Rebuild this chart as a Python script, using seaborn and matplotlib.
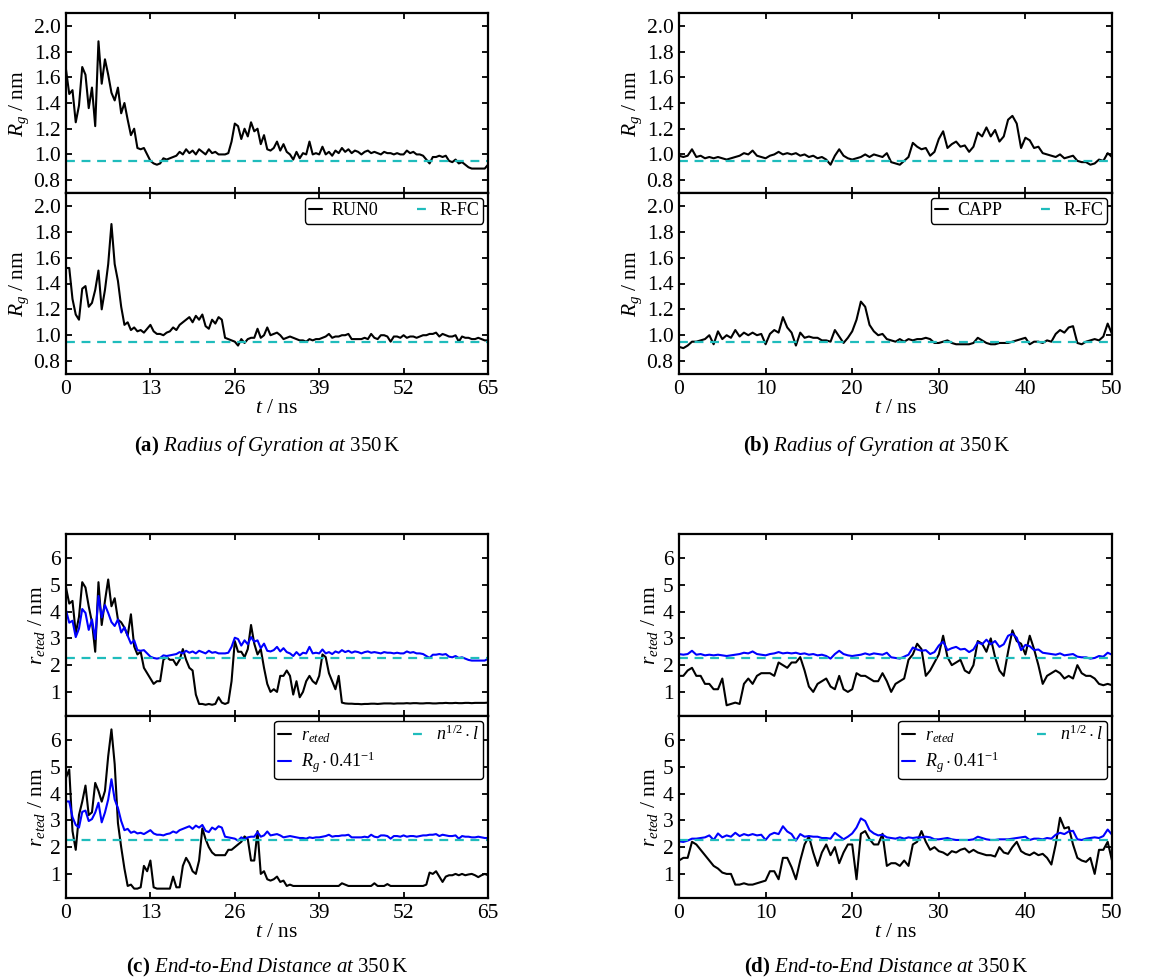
import numpy as np
import matplotlib
matplotlib.use("Agg")
import matplotlib.pyplot as plt
import seaborn as sns

# ---------------- data ----------------
# radius of gyration, RUN0 (65 ns), sampled every 0.5 ns
rg_run0_a = [
    1.66, 1.47, 1.50, 1.25, 1.38, 1.68, 1.62, 1.36, 1.52, 1.22,
    1.88, 1.55, 1.74, 1.62, 1.48, 1.42, 1.52, 1.32, 1.40, 1.27,
    1.15, 1.20, 1.05, 1.04, 1.05, 1.00, 0.95, 0.93, 0.92, 0.93,
    0.97, 0.96, 0.97, 0.98, 0.99, 1.02, 1.00, 1.04, 1.01, 1.03,
    1.00, 1.04, 1.02, 1.00, 1.04, 1.01, 1.02, 1.00, 1.00, 1.00,
    1.01, 1.10, 1.24, 1.22, 1.12, 1.20, 1.14, 1.25, 1.18, 1.20,
    1.08, 1.15, 1.04, 1.03, 1.05, 1.10, 1.03, 1.08, 1.02, 1.00,
    0.96, 1.02, 0.97, 1.01, 1.00, 1.10, 1.00, 1.01, 1.00, 1.06,
    1.00, 1.02, 0.99, 1.03, 1.01, 1.05, 1.02, 1.04, 1.01, 1.03,
    1.02, 1.00, 1.02, 1.03, 1.01, 1.02, 1.01, 1.00, 1.02, 1.01,
    1.01, 1.00, 1.01, 1.00, 1.00, 1.03, 1.01, 1.02, 1.00, 1.00,
    0.99, 0.96, 0.93, 0.98, 0.98, 0.99, 0.98, 0.99, 0.95, 0.94,
    0.96, 0.93, 0.94, 0.92, 0.90, 0.89, 0.89, 0.89, 0.89, 0.89,
    0.92,
]
rg_run0_b = [
    1.52, 1.52, 1.28, 1.16, 1.12, 1.36, 1.38, 1.22, 1.25, 1.35,
    1.50, 1.20, 1.35, 1.55, 1.86, 1.55, 1.42, 1.22, 1.08, 1.10,
    1.04, 1.06, 1.03, 1.04, 1.02, 1.05, 1.08, 1.03, 1.01, 1.01,
    1.00, 1.02, 1.03, 1.06, 1.04, 1.08, 1.10, 1.12, 1.14, 1.10,
    1.15, 1.12, 1.16, 1.07, 1.05, 1.12, 1.09, 1.14, 1.12, 0.98,
    0.97, 0.96, 0.95, 0.92, 0.97, 0.94, 0.97, 0.98, 0.98, 1.05,
    0.98, 1.00, 1.06, 1.00, 1.01, 1.02, 1.00, 0.97, 0.98, 0.99,
    0.98, 0.97, 0.96, 0.96, 0.95, 0.97, 0.96, 0.97, 0.97, 0.98,
    0.99, 1.01, 0.98, 0.99, 0.99, 1.00, 1.00, 1.01, 0.97, 0.97,
    0.97, 0.97, 0.98, 0.97, 1.01, 0.98, 0.97, 1.00, 1.00, 0.99,
    0.95, 0.99, 0.99, 0.98, 1.00, 0.98, 0.99, 0.99, 0.98, 0.99,
    1.00, 1.00, 1.01, 1.01, 1.02, 0.99, 1.01, 1.00, 0.99, 0.99,
    1.00, 0.95, 0.99, 0.98, 0.98, 0.97, 0.97, 0.98, 0.97, 0.96,
    0.96,
]
# radius of gyration, CAPP (50 ns), sampled every 0.5 ns
rg_capp_a = [
    0.99, 0.98, 0.99, 1.04, 0.98, 0.99, 0.97, 0.98, 0.97, 0.98,
    0.97, 0.96, 0.97, 0.98, 0.99, 1.01, 1.00, 1.03, 0.99, 0.98,
    0.97, 0.99, 1.00, 1.02, 1.00, 1.01, 1.00, 1.01, 0.99, 1.00,
    0.98, 0.99, 0.97, 0.98, 0.96, 0.92, 0.99, 1.04, 0.99, 0.97,
    0.96, 0.97, 0.98, 1.00, 0.98, 1.00, 0.99, 0.98, 1.01, 0.94,
    0.93, 0.92, 0.95, 0.98, 1.09, 1.06, 1.04, 1.05, 0.99, 1.02,
    1.12, 1.18, 1.05, 1.08, 1.10, 1.06, 1.07, 1.02, 1.06, 1.17,
    1.14, 1.21, 1.14, 1.19, 1.10, 1.14, 1.27, 1.30, 1.24, 1.05,
    1.13, 1.11, 1.05, 1.06, 1.01, 1.00, 0.99, 0.98, 1.00, 0.97,
    0.98, 0.99, 0.95, 0.94, 0.94, 0.92, 0.93, 0.96, 0.95, 1.01,
    0.98,
]
rg_capp_b = [
    0.91, 0.90, 0.92, 0.95, 0.95, 0.96, 0.97, 1.00, 0.93, 1.03,
    0.97, 1.00, 0.98, 1.04, 0.99, 1.02, 1.00, 1.02, 1.00, 1.01,
    0.93, 1.01, 1.04, 1.02, 1.14, 1.06, 1.02, 0.92, 1.02, 0.98,
    0.99, 0.98, 0.98, 0.96, 0.96, 0.95, 1.04, 0.99, 0.94, 0.98,
    1.03, 1.12, 1.26, 1.22, 1.08, 1.03, 1.00, 1.01, 0.97, 0.96,
    0.95, 0.97, 0.95, 0.97, 0.96, 0.97, 0.97, 0.98, 0.97, 0.94,
    0.94, 0.95, 0.96, 0.94, 0.93, 0.93, 0.93, 0.93, 0.94, 0.98,
    0.96, 0.94, 0.93, 0.93, 0.94, 0.94, 0.94, 0.95, 0.96, 0.97,
    0.98, 0.93, 0.95, 0.95, 0.94, 0.96, 0.95, 1.01, 1.04, 1.02,
    1.06, 1.07, 0.94, 0.93, 0.95, 0.96, 0.97, 0.96, 0.99, 1.09,
    1.01,
]
# end-to-end distance, RUN0
reted_run0_a = [
    4.9, 4.3, 4.4, 3.2, 3.8, 5.1, 4.9, 4.2, 3.6, 2.5,
    5.1, 3.5, 4.4, 5.2, 4.2, 4.5, 3.7, 3.6, 3.4, 3.1,
    3.9, 2.7, 2.4, 2.5, 1.9, 1.7, 1.5, 1.3, 1.4, 1.4,
    2.2, 2.3, 2.2, 2.2, 2.0, 2.2, 2.6, 2.2, 1.9, 1.8,
    0.9, 0.55, 0.55, 0.52, 0.55, 0.52, 0.55, 0.8, 0.6, 0.55,
    0.6, 1.4, 2.9, 2.5, 2.5, 2.3, 2.6, 3.5, 2.8, 2.4,
    2.6, 1.9, 1.3, 1.0, 1.1, 1.0, 1.6, 1.6, 1.8, 1.6,
    0.9, 1.4, 0.8, 1.0, 1.4, 1.6, 1.4, 1.3, 1.6, 2.4,
    2.3, 1.7, 1.4, 1.1, 1.6, 0.6, 0.57, 0.56, 0.56, 0.55,
    0.55, 0.54, 0.55, 0.55, 0.56, 0.56, 0.55, 0.56, 0.57, 0.57,
    0.57, 0.56, 0.57, 0.57, 0.57, 0.58, 0.57, 0.58, 0.58, 0.57,
    0.57, 0.58, 0.58, 0.57, 0.57, 0.58, 0.58, 0.59, 0.58, 0.58,
    0.59, 0.58, 0.58, 0.59, 0.59, 0.58, 0.59, 0.59, 0.59, 0.59,
    0.60,
]
reted_run0_b = [
    4.6, 4.9, 2.6, 1.9, 3.2, 3.7, 4.3, 3.2, 3.3, 4.4,
    4.1, 3.7, 4.1, 5.4, 6.4, 5.1, 2.9, 2.0, 1.2, 0.55,
    0.6, 0.45, 0.45, 0.5, 1.3, 1.1, 1.5, 0.5, 0.45, 0.45,
    0.45, 0.45, 0.45, 0.9, 0.5, 0.5, 1.3, 1.6, 1.4, 1.1,
    1.0, 1.5, 2.7, 2.3, 2.0, 1.8, 1.7, 1.7, 1.7, 1.7,
    1.9, 1.9, 2.0, 2.1, 2.2, 2.4, 2.3, 1.5, 1.5, 2.6,
    1.0, 1.1, 0.8, 0.75, 0.8, 0.9, 0.7, 0.75, 0.55, 0.6,
    0.55, 0.55, 0.55, 0.55, 0.55, 0.55, 0.55, 0.55, 0.55, 0.55,
    0.55, 0.55, 0.55, 0.55, 0.55, 0.65, 0.6, 0.55, 0.55, 0.55,
    0.55, 0.55, 0.55, 0.55, 0.55, 0.65, 0.55, 0.55, 0.55, 0.62,
    0.55, 0.55, 0.55, 0.55, 0.55, 0.55, 0.55, 0.55, 0.55, 0.55,
    0.55, 0.6, 1.05, 1.0, 1.1, 0.9, 0.7, 0.9, 0.95, 0.95,
    1.0, 0.95, 1.0, 0.95, 0.98, 1.0, 0.95, 0.88, 0.95, 1.0,
    0.95,
]
# end-to-end distance, CAPP
reted_capp_a = [
    1.6, 1.6, 1.8, 1.9, 1.6, 1.6, 1.3, 1.3, 1.1, 1.1,
    1.5, 0.5, 0.55, 0.6, 0.55, 1.3, 1.5, 1.3, 1.6, 1.7,
    1.7, 1.7, 1.6, 2.1, 2.0, 1.9, 2.1, 2.1, 2.3, 1.8,
    1.2, 1.0, 1.3, 1.4, 1.5, 1.2, 1.1, 1.6, 1.1, 1.0,
    1.1, 1.7, 1.6, 1.6, 1.5, 1.4, 1.4, 1.7, 1.4, 1.0,
    1.3, 1.4, 1.5, 2.2, 2.4, 2.8, 2.6, 1.6, 1.8, 2.1,
    2.4, 3.1, 2.3, 2.0, 2.1, 2.2, 1.8, 1.7, 2.0, 2.9,
    2.8, 2.5, 3.0, 2.3, 1.8, 1.6, 2.5, 3.3, 2.9, 2.8,
    2.4, 3.1, 2.6, 2.0, 1.3, 1.6, 1.7, 1.8, 1.7, 1.5,
    1.6, 1.5, 2.0, 1.7, 1.6, 1.6, 1.5, 1.3, 1.25, 1.3,
    1.25,
]
reted_capp_b = [
    1.5, 1.6, 1.6, 2.2, 2.1, 1.9, 1.7, 1.5, 1.3, 1.2,
    1.05, 1.0, 1.0, 0.6, 0.6, 0.65, 0.6, 0.6, 0.65, 0.7,
    0.75, 1.1, 1.1, 0.8, 1.6, 1.6, 1.25, 0.8, 1.5, 2.1,
    2.4, 1.8, 1.3, 1.8, 2.1, 1.7, 2.0, 1.4, 1.8, 2.1,
    2.1, 0.8, 2.5, 2.6, 2.3, 2.1, 2.1, 2.5, 1.3, 1.4,
    1.4, 1.3, 1.5, 1.3, 2.1, 2.2, 2.6, 2.2, 1.9, 2.0,
    1.85, 1.8, 1.7, 1.85, 1.8, 1.9, 1.95, 1.8, 1.9, 1.8,
    1.75, 1.7, 1.7, 1.65, 2.0, 1.8, 1.75, 2.0, 2.2, 1.85,
    1.75, 1.7, 1.8, 1.7, 1.75, 1.6, 1.35, 2.1, 3.1, 2.7,
    2.75, 2.1, 1.6, 1.5, 1.45, 1.6, 1.0, 1.9, 1.9, 2.2,
    1.5,
]

rg_rfc = 0.945          # R-FC reference radius of gyration / nm
reted_ideal = 2.28      # n^(1/2) * l / nm
rg_factor = 0.41        # R_g / r_eted ratio

t_run0 = np.linspace(0, 65, len(rg_run0_a))
t_capp = np.linspace(0, 50, len(rg_capp_a))

run0_ticks = [0, 13, 26, 39, 52, 65]
capp_ticks = [0, 10, 20, 30, 40, 50]
rg_ticks = [0.8, 1.0, 1.2, 1.4, 1.6, 1.8, 2.0]
reted_ticks = [1, 2, 3, 4, 5, 6]

captions = [
    r"$\mathbf{(a)}$ $\mathit{Radius\ of\ Gyration\ at}$ $350\,\mathrm{K}$",
    r"$\mathbf{(b)}$ $\mathit{Radius\ of\ Gyration\ at}$ $350\,\mathrm{K}$",
    r"$\mathbf{(c)}$ $\mathit{End}\text{-}\mathit{to}\text{-}\mathit{End\ Distance\ at}$ $350\,\mathrm{K}$",
    r"$\mathbf{(d)}$ $\mathit{End}\text{-}\mathit{to}\text{-}\mathit{End\ Distance\ at}$ $350\,\mathrm{K}$",
]

# ---------------- style ----------------
sns.set_theme(style="ticks")
plt.rcParams.update({
    "font.family": ["Liberation Serif", "DejaVu Serif"],
    "mathtext.fontset": "custom",
    "mathtext.rm": "Liberation Serif",
    "mathtext.it": "Liberation Serif:italic",
    "mathtext.bf": "Liberation Serif:bold",
    "text.color": "black",
    "axes.labelcolor": "black",
    "axes.linewidth": 1.6,
    "axes.edgecolor": "black",
    "xtick.direction": "in",
    "ytick.direction": "in",
    "xtick.top": True,
    "ytick.right": True,
    "xtick.major.size": 4,
    "ytick.major.size": 4,
    "xtick.major.width": 1.3,
    "ytick.major.width": 1.3,
    "xtick.labelsize": 15.5,
    "ytick.labelsize": 15.5,
    "axes.labelsize": 15.5,
    "xtick.color": "black",
    "ytick.color": "black",
})

CYAN = "#1fbcbc"
BLUE = "#0000ff"
DASH = (0, (4, 3))

W, H = 1165, 977
fig = plt.figure(figsize=(W / 100, H / 100), dpi=100)


def add_axes(left, right, top, bottom):
    return fig.add_axes([left / W, 1 - bottom / H, (right - left) / W, (bottom - top) / H])


def style_axis(ax, xticks, yticks, ylim, yfmt, ylabel, show_x):
    ax.set_xlim(xticks[0], xticks[-1])
    ax.set_ylim(*ylim)
    ax.set_xticks(xticks)
    ax.set_yticks(yticks)
    ax.set_yticklabels([yfmt.format(v) for v in yticks])
    ax.set_ylabel(ylabel, labelpad=2)
    ax.tick_params(axis="both", which="major", pad=4)
    if show_x:
        ax.set_xlabel(r"$t$ / ns", labelpad=0)
    else:
        ax.set_xticklabels([])
        ax.set_xlabel("")
    for s in ax.spines.values():
        s.set_color("black")


def legend(ax, handles, labels):
    leg = ax.legend(handles, labels, loc="upper right", ncol=2, fontsize=13,
                    frameon=True, fancybox=True, framealpha=1, edgecolor="black",
                    handlelength=0.7, handletextpad=0.55, columnspacing=2.1,
                    borderaxespad=0.25, borderpad=0.25, labelspacing=0.25)
    leg.get_frame().set_linewidth(1.0)


# ---------------- radius of gyration panels ----------------
rg_sets = [
    (66, 488, t_run0, run0_ticks, rg_run0_a, rg_run0_b, "RUN0"),
    (679, 1112, t_capp, capp_ticks, rg_capp_a, rg_capp_b, "CAPP"),
]
for left, right, t, xt, top_vals, bot_vals, name in rg_sets:
    ax_top = add_axes(left, right, 13, 193)
    ax_bot = add_axes(left, right, 193, 374)
    for ax, vals, show_x in [(ax_top, top_vals, False), (ax_bot, bot_vals, True)]:
        sns.lineplot(x=t, y=vals, ax=ax, color="black", linewidth=1.5,
                     estimator=None, sort=False, legend=False)
        ax.axhline(rg_rfc, color=CYAN, linestyle=DASH, linewidth=1.6)
        style_axis(ax, xt, rg_ticks, (0.7, 2.1), "{:.1f}", r"$R_g$ / nm", show_x)
    h_line = ax_bot.lines[0]
    h_ref = ax_bot.lines[1]
    legend(ax_bot, [h_line, h_ref], [name, "R-FC"])

# ---------------- end-to-end distance panels ----------------
ee_sets = [
    (66, 488, t_run0, run0_ticks, (reted_run0_a, rg_run0_a), (reted_run0_b, rg_run0_b)),
    (679, 1112, t_capp, capp_ticks, (reted_capp_a, rg_capp_a), (reted_capp_b, rg_capp_b)),
]
for left, right, t, xt, top_pair, bot_pair in ee_sets:
    ax_top = add_axes(left, right, 534, 716)
    ax_bot = add_axes(left, right, 716, 898)
    for ax, (ree, rg), show_x in [(ax_top, top_pair, False), (ax_bot, bot_pair, True)]:
        sns.lineplot(x=t, y=ree, ax=ax, color="black", linewidth=1.5,
                     estimator=None, sort=False, legend=False)
        sns.lineplot(x=t, y=np.asarray(rg) / rg_factor, ax=ax, color=BLUE,
                     linewidth=1.5, estimator=None, sort=False, legend=False)
        ax.axhline(reted_ideal, color=CYAN, linestyle=DASH, linewidth=1.6)
        style_axis(ax, xt, reted_ticks, (0.1, 6.9), "{:d}", r"$r_{eted}$ / nm", show_x)
    l_ree, l_rg, l_ref = ax_bot.lines[:3]
    legend(ax_bot, [l_ree, l_rg, l_ref],
           [r"$r_{eted}$", r"$R_g\cdot0.41^{-1}$", r"$n^{1/2}\cdot l$"])

# ---------------- captions ----------------
cap_pos = [(267, 446), (877, 446), (267, 967), (886, 967)]
for (cx, cy), text in zip(cap_pos, captions):
    fig.text(cx / W, 1 - cy / H, text, ha="center", va="center", fontsize=15)

fig.savefig("out.png", dpi=100)
